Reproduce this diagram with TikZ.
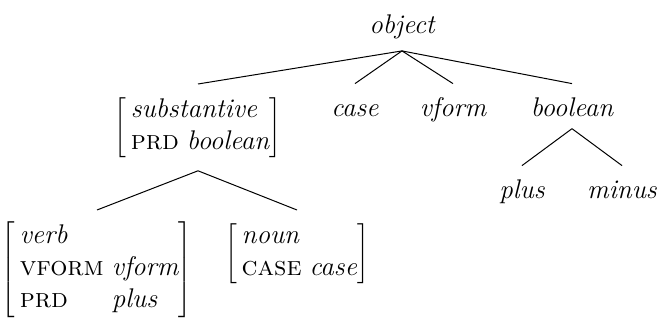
\documentclass[tikz,border=0pt]{standalone}
\begin{document}
\begin{tikzpicture}[x=0.5pt,y=-0.5pt,
  every node/.style={font=\fontsize{13.5}{16}\selectfont},
  word/.style={inner xsep=0pt, inner ysep=6pt, text height=10pt, font=\fontsize{13.5}{16}\selectfont\itshape},
  avm/.style={inner xsep=0pt, inner ysep=5.5pt},
  branch/.style={line width=0.5pt}]
\useasboundingbox (0,0) rectangle (660,321);
\node[word, anchor=base] (object) at (402,33) {object};
\node[word, anchor=base] (case) at (355,116) {case};
\node[word, anchor=base] (vform) at (453,116) {vform};
\node[word, anchor=base] (boolean) at (572,116) {boolean};
\node[word, anchor=base] (plus) at (522,198) {plus};
\node[word, anchor=base] (minus) at (622,198) {minus};
\node[avm, anchor=north] (subst) at (198,84) {$\left[\,\begin{tabular}{@{}l@{\hspace{4pt}}l@{}}\multicolumn{2}{@{}l@{}}{\textit{substantive}}\\ \textsc{prd} & \textit{boolean}\end{tabular}\right]$};
\node[avm, anchor=north] (verb) at (97,210) {$\left[\,\begin{tabular}{@{}l@{\hspace{4pt}}l@{}}\textit{verb} & \\ \textsc{vform} & \textit{vform}\\ \textsc{prd} & \textit{plus}\end{tabular}\right]$};
\node[avm, anchor=north] (noun) at (297,210) {$\left[\,\begin{tabular}{@{}l@{\hspace{4pt}}l@{}}\multicolumn{2}{@{}l@{}}{\textit{noun}}\\ \textsc{case} & \textit{case}\end{tabular}\right]$};
\draw[branch] (object.south) -- (subst.north);
\draw[branch] (object.south) -- (case.north);
\draw[branch] (object.south) -- (vform.north);
\draw[branch] (object.south) -- (boolean.north);
\draw[branch] (boolean.south) -- (plus.north);
\draw[branch] (boolean.south) -- (minus.north);
\draw[branch] (subst.south) -- (verb.north);
\draw[branch] (subst.south) -- (noun.north);
\end{tikzpicture}
\end{document}
